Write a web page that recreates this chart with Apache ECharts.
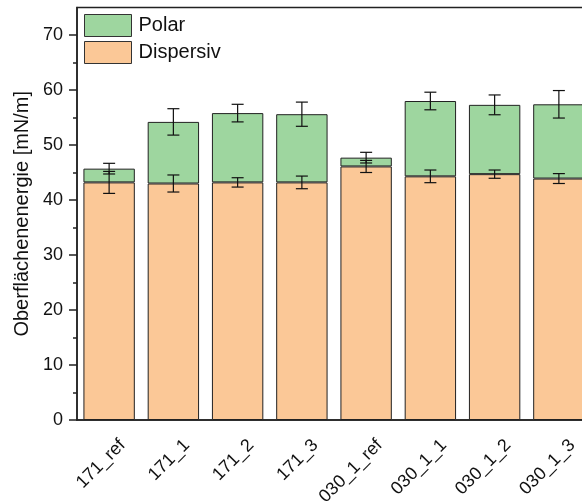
<!DOCTYPE html>
<html>
<head>
<meta charset="utf-8">
<script src="https://cdn.jsdelivr.net/npm/echarts@6/dist/echarts.min.js"></script>
<style>
html,body{margin:0;padding:0;background:#fff;}
#chart{width:582px;height:503px;}
</style>
</head>
<body>
<div id="chart"></div>
<script>
const categories = ['171_ref','171_1','171_2','171_3','030_1_ref','030_1_1','030_1_2','030_1_3'];
const dispersiv = [43.2, 43.0, 43.2, 43.2, 46.1, 44.3, 44.7, 43.9];
const polar = [2.5, 11.2, 12.6, 12.4, 1.6, 13.7, 12.6, 13.5];
const dispersivErr = [2.0, 1.55, 0.85, 1.15, 1.1, 1.15, 0.75, 0.9];
const totalErr = [0.97, 2.4, 1.6, 2.2, 0.97, 1.6, 1.8, 2.5];
const yMajorTicks = [0,10,20,30,40,50,60,70];
const yMinorTicks = [5,15,25,35,45,55,65];

const FONT = '"Liberation Sans", Arial, sans-serif';
const AX = '#222';

const errData = [];
categories.forEach((c, i) => {
  errData.push([i, dispersiv[i], dispersivErr[i]]);
  errData.push([i, dispersiv[i] + polar[i], totalErr[i]]);
});

function renderErr(params, api) {
  const i = api.value(0), v = api.value(1), e = api.value(2);
  const hi = api.coord([i, v + e]);
  const lo = api.coord([i, v - e]);
  const hw = 6;
  const style = {stroke: '#111', lineWidth: 1.2};
  return {
    type: 'group',
    children: [
      {type: 'line', shape: {x1: hi[0], y1: hi[1], x2: lo[0], y2: lo[1]}, style},
      {type: 'line', shape: {x1: hi[0]-hw, y1: hi[1], x2: hi[0]+hw, y2: hi[1]}, style},
      {type: 'line', shape: {x1: lo[0]-hw, y1: lo[1], x2: lo[0]+hw, y2: lo[1]}, style}
    ]
  };
}

const chart = echarts.init(document.getElementById('chart'), null, {renderer: 'canvas'});
chart.setOption({
  animation: false,
  textStyle: {fontFamily: FONT},
  grid: {left: 77, top: 7.5, width: 514, height: 412.5, outerBoundsMode: 'none', containLabel: false,
    show: true, borderColor: AX, borderWidth: 1.5, backgroundColor: 'transparent'},
  legend: {
    orient: 'vertical', left: 84, top: 14, itemWidth: 47, itemHeight: 22, itemGap: 4, padding: 0,
    icon: 'rect',
    data: ['Polar', 'Dispersiv'],
    textStyle: {fontSize: 20, color: '#111', fontFamily: FONT, padding: [0,0,0,2]},
    itemStyle: {borderColor: '#333', borderWidth: 1}
  },
  xAxis: [{
    type: 'category', data: categories,
    axisLine: {lineStyle: {color: AX, width: 1.5}},
    axisTick: {alignWithLabel: true, length: 8, lineStyle: {color: AX, width: 1.5}},
    axisLabel: {rotate: 45, fontSize: 18, color: '#111', margin: 9, verticalAlign: 'top', padding: [10, 0, 0, 0], fontFamily: FONT},
    splitLine: {show: false}
  }, {
    type: 'category', data: categories, position: 'bottom',
    axisLine: {show: false},
    axisTick: {length: 4, lineStyle: {color: AX, width: 1.5}},
    axisLabel: {show: false}
  }],
  yAxis: [{
    type: 'value', min: 0, max: 75, interval: 10,
    name: 'Oberflächenenergie [mN/m]', nameLocation: 'middle', nameGap: 45,
    nameTextStyle: {fontSize: 20, color: '#111', fontFamily: FONT},
    axisLine: {show: true, lineStyle: {color: AX, width: 1.5}},
    axisTick: {show: true, length: 8, customValues: yMajorTicks, lineStyle: {color: AX, width: 1.5}},
    axisLabel: {fontSize: 18, color: '#111', margin: 14, customValues: yMajorTicks, fontFamily: FONT},
    splitLine: {show: false}
  }, {
    type: 'value', min: 0, max: 75, position: 'left',
    axisLine: {show: false},
    axisTick: {show: true, length: 4, customValues: yMinorTicks, lineStyle: {color: AX, width: 1.5}},
    axisLabel: {show: false},
    splitLine: {show: false}
  }],
  series: [{
    name: 'Dispersiv', type: 'bar', stack: 'e', data: dispersiv, barCategoryGap: '20%',
    itemStyle: {color: '#FBC897', borderColor: '#222', borderWidth: 1}
  }, {
    name: 'Polar', type: 'bar', stack: 'e', data: polar,
    itemStyle: {color: '#9ED69F', borderColor: '#222', borderWidth: 1}
  }, {
    type: 'custom', data: errData, renderItem: renderErr, z: 10,
    encode: {x: 0, y: 1}
  }]
});
</script>
</body>
</html>
